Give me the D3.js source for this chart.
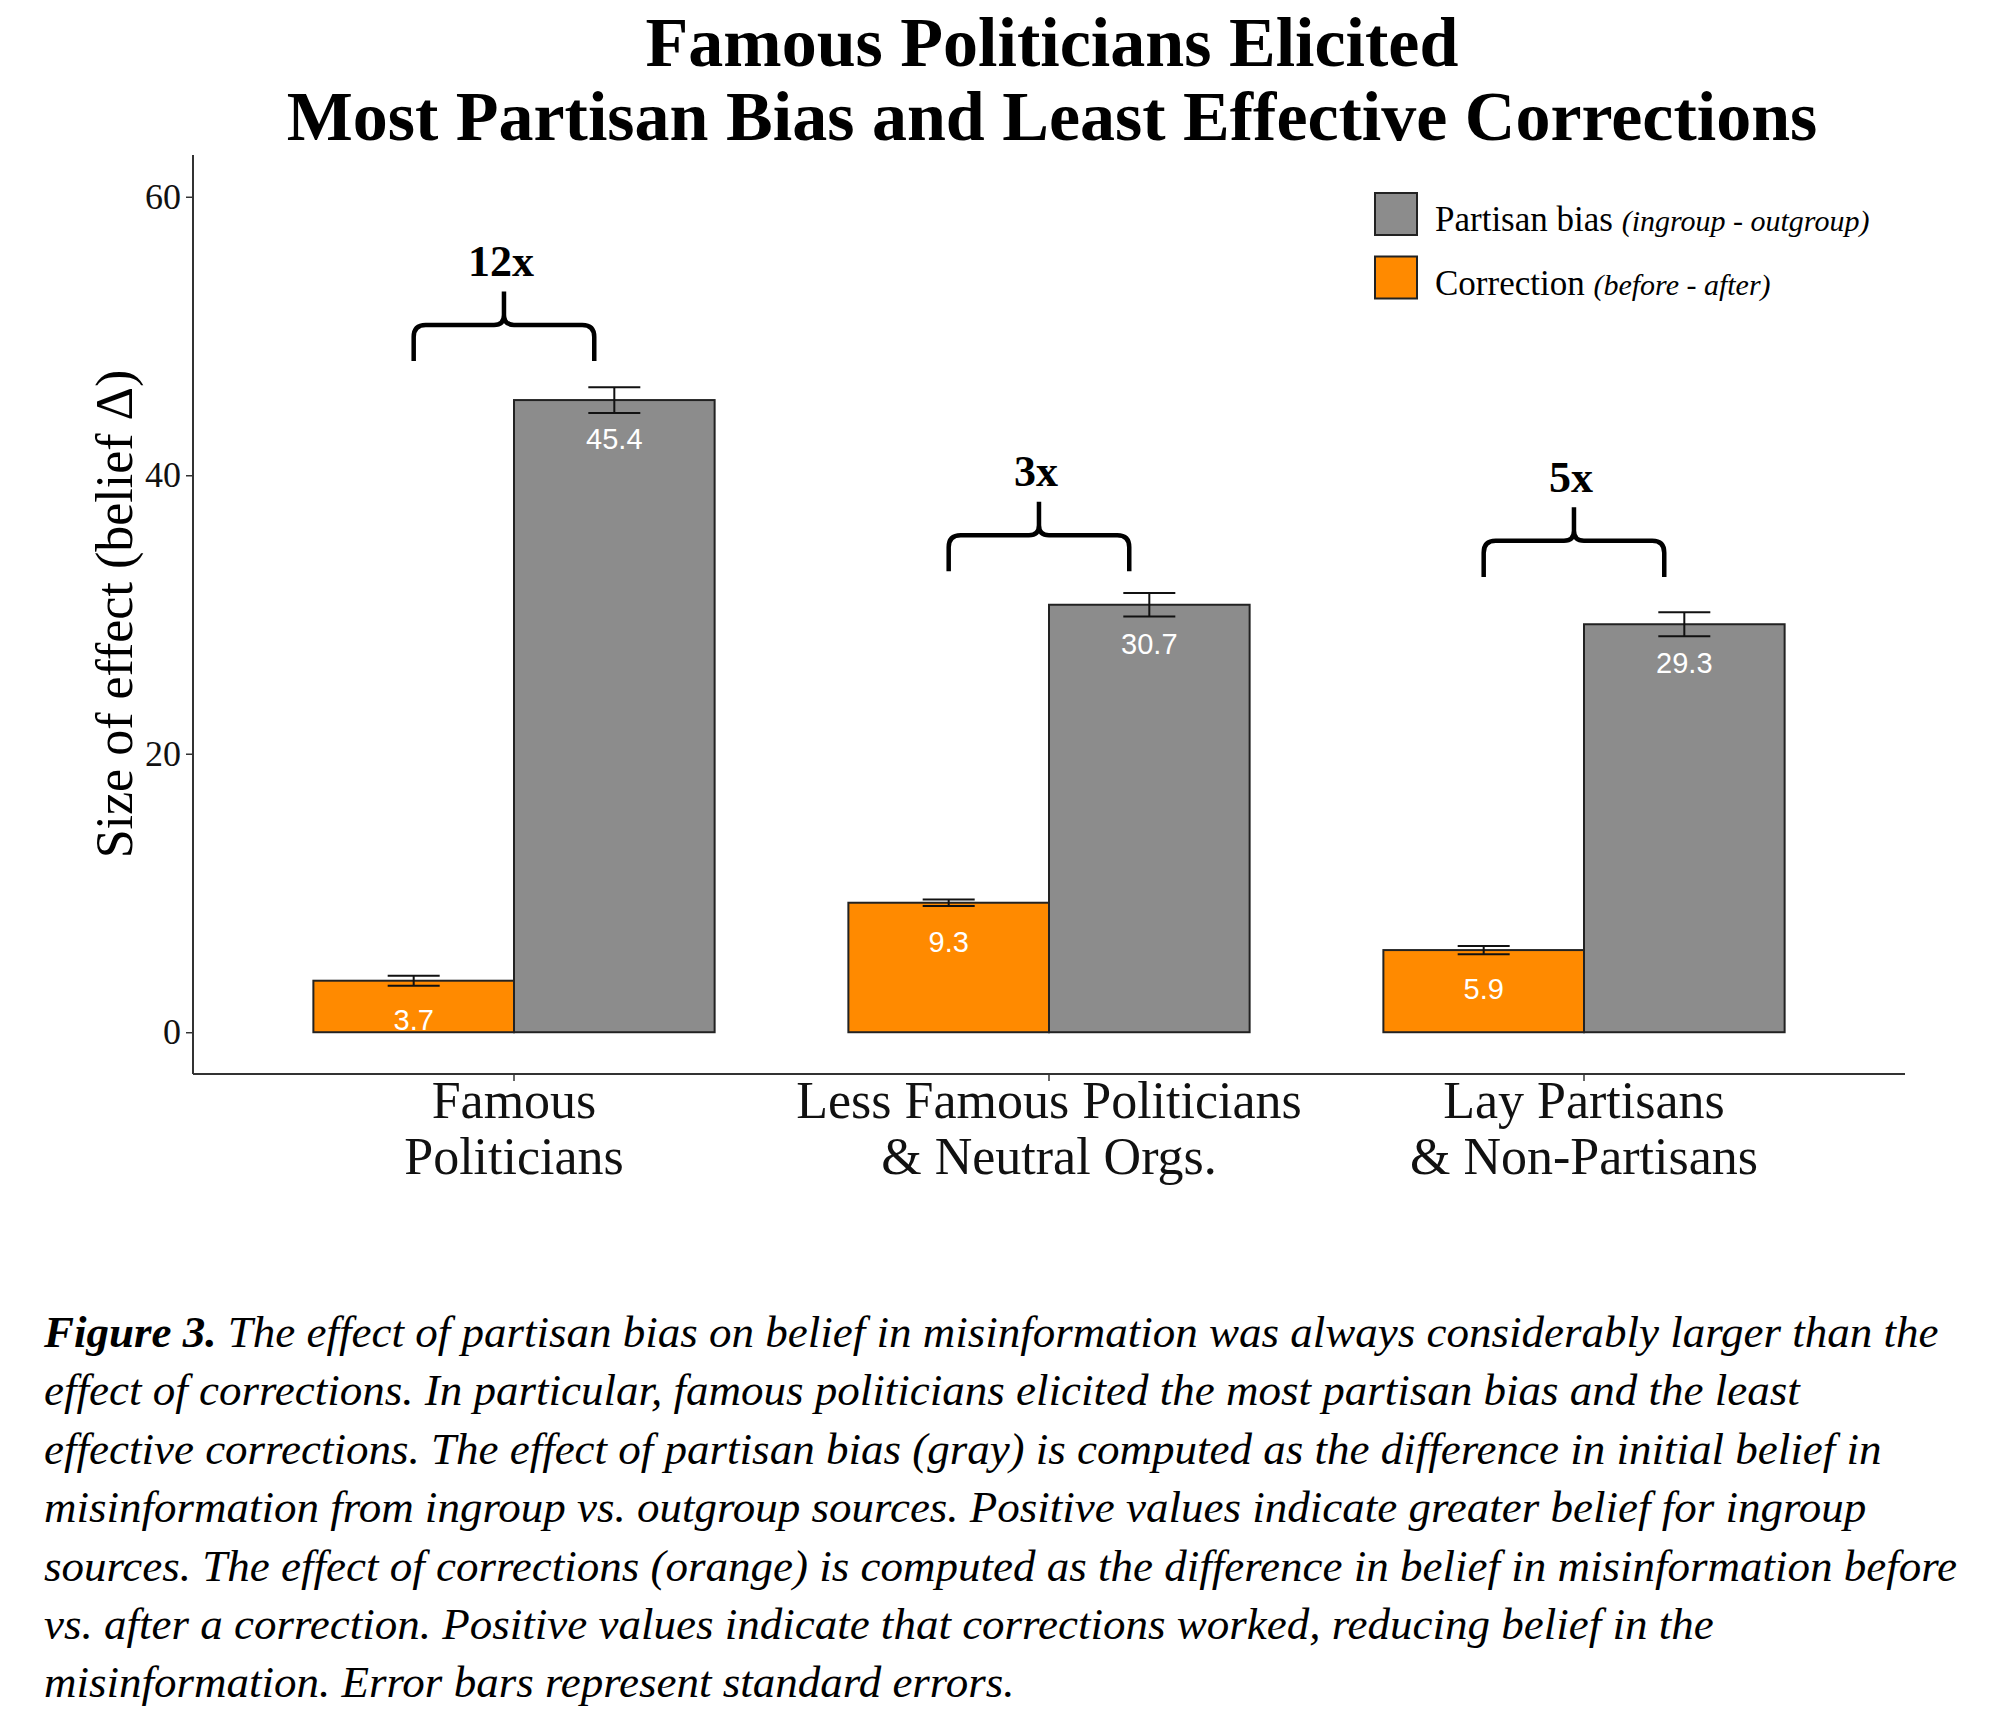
<!DOCTYPE html>
<html>
<head>
<meta charset="utf-8">
<script src="https://cdn.jsdelivr.net/npm/d3@7"></script>
<style>
  html, body { margin: 0; padding: 0; background: #fff; }
  svg { display: block; }
</style>
</head>
<body>
<script>
// ---- data ----
const categories = ["Famous Politicians", "Less Famous Politicians & Neutral Orgs.", "Lay Partisans & Non-Partisans"];
const categoryLines = [["Famous", "Politicians"], ["Less Famous Politicians", "& Neutral Orgs."], ["Lay Partisans", "& Non-Partisans"]];
const seriesNames = ["Correction", "Partisan bias"];
const correctionValues = [3.7, 9.3, 5.9];
const correctionSE = [0.36, 0.24, 0.30];
const biasValues = [45.4, 30.7, 29.3];
const biasSE = [0.92, 0.84, 0.86];
const ratioLabels = ["12x", "3x", "5x"];
const braceBase = [48.2, 33.1, 32.7];
const yTicks = [0, 20, 40, 60];
const titleLines = ["Famous Politicians Elicited", "Most Partisan Bias and Least Effective Corrections"];
const legendItems = [
  { name: "Partisan bias", note: "(ingroup - outgroup)", series: "Partisan bias" },
  { name: "Correction", note: "(before - after)", series: "Correction" }
];
const yLabel = "Size of effect (belief \u0394)";
const captionLines = [
  "The effect of partisan bias on belief in misinformation was always considerably larger than the",
  "effect of corrections. In particular, famous politicians elicited the most partisan bias and the least",
  "effective corrections. The effect of partisan bias (gray) is computed as the difference in initial belief in",
  "misinformation from ingroup vs. outgroup sources. Positive values indicate greater belief for ingroup",
  "sources. The effect of corrections (orange) is computed as the difference in belief in misinformation before",
  "vs. after a correction. Positive values indicate that corrections worked, reducing belief in the",
  "misinformation. Error bars represent standard errors."
];

// ---- layout ----
const W = 2000, H = 1725;
const SERIF = "'Liberation Serif', 'Times New Roman', serif";
const SANS = "'Liberation Sans', Arial, sans-serif";
const colors = { "Correction": "#FF8A00", "Partisan bias": "#8C8C8C" };
const plot = { left: 193, right: 1905, top: 155, bottom: 1074 };

const svg = d3.select("body").append("svg").attr("width", W).attr("height", H);

const x = d3.scaleBand().domain(categories).range([plot.left, plot.right])
  .paddingInner(0.25).paddingOuter(0.225);
const xs = d3.scaleBand().domain(seriesNames).range([0, x.bandwidth()]);
const y = d3.scaleLinear().domain([-3, 63]).range([plot.bottom, plot.top]);

const rows = [];
categories.forEach((c, i) => {
  rows.push({ cat: c, series: "Correction", value: correctionValues[i], se: correctionSE[i] });
  rows.push({ cat: c, series: "Partisan bias", value: biasValues[i], se: biasSE[i] });
});

// title
svg.append("g").selectAll("text").data(titleLines).join("text")
  .attr("x", 1052).attr("y", (d, i) => 66 + i * 74)
  .attr("text-anchor", "middle")
  .style("font-family", SERIF).style("font-weight", "bold").style("font-size", "70px")
  .text(d => d);

// bars
svg.append("g").selectAll("rect").data(rows).join("rect")
  .attr("x", d => x(d.cat) + xs(d.series))
  .attr("y", d => y(d.value))
  .attr("width", xs.bandwidth())
  .attr("height", d => y(0) - y(d.value))
  .attr("fill", d => colors[d.series])
  .attr("stroke", "#222").attr("stroke-width", 2);

// error bars
const capHalf = 26;
const eb = svg.append("g").attr("stroke", "#111").attr("stroke-width", 2);
rows.forEach(d => {
  const cx = x(d.cat) + xs(d.series) + xs.bandwidth() / 2;
  const y1 = y(d.value + d.se), y0 = y(d.value - d.se);
  eb.append("line").attr("x1", cx).attr("x2", cx).attr("y1", y1).attr("y2", y0);
  eb.append("line").attr("x1", cx - capHalf).attr("x2", cx + capHalf).attr("y1", y1).attr("y2", y1);
  eb.append("line").attr("x1", cx - capHalf).attr("x2", cx + capHalf).attr("y1", y0).attr("y2", y0);
});

// value labels
svg.append("g").selectAll("text").data(rows).join("text")
  .attr("x", d => x(d.cat) + xs(d.series) + xs.bandwidth() / 2)
  .attr("y", d => y(d.value) + 49)
  .attr("text-anchor", "middle")
  .attr("fill", "#fff")
  .style("font-family", SANS).style("font-size", "29px")
  .text(d => d.value.toFixed(1));

// braces
const bg = svg.append("g");
categories.forEach((c, i) => {
  const xl = x(c) + xs("Correction") + xs.bandwidth() / 2;
  const xr = x(c) + x.bandwidth() / 2 + 0.15 * x.step();
  const xm = (xl + xr) / 2;
  const yb = y(braceBase[i]), yh = y(braceBase[i] + 2.6), yp = y(braceBase[i] + 5.0);
  const r = 12;
  const p = d3.path();
  p.moveTo(xl, yb);
  p.lineTo(xl, yh + r);
  p.quadraticCurveTo(xl, yh, xl + r, yh);
  p.lineTo(xm - 10, yh);
  p.quadraticCurveTo(xm, yh, xm, yh - 10);
  p.lineTo(xm, yp);
  p.moveTo(xm, yh - 10);
  p.quadraticCurveTo(xm, yh, xm + 10, yh);
  p.lineTo(xr - r, yh);
  p.quadraticCurveTo(xr, yh, xr, yh + r);
  p.lineTo(xr, yb);
  bg.append("path").attr("d", p.toString()).attr("fill", "none")
    .attr("stroke", "#000").attr("stroke-width", 4.5).attr("stroke-linejoin", "round");
  bg.append("text").attr("x", xm - 3).attr("y", y(braceBase[i] + 6.1))
    .attr("text-anchor", "middle")
    .style("font-family", SERIF).style("font-weight", "bold").style("font-size", "44px")
    .text(ratioLabels[i]);
});

// axes
const axG = svg.append("g");
axG.append("line").attr("x1", plot.left).attr("x2", plot.left).attr("y1", plot.top).attr("y2", plot.bottom)
  .attr("stroke", "#333").attr("stroke-width", 2);
axG.append("line").attr("x1", plot.left).attr("x2", plot.right).attr("y1", plot.bottom).attr("y2", plot.bottom)
  .attr("stroke", "#333").attr("stroke-width", 2);

const yAxis = d3.axisLeft(y).tickValues(yTicks).tickSize(7).tickPadding(5).tickFormat(d3.format("d"));
const gy = svg.append("g").attr("transform", `translate(${plot.left},0)`).call(yAxis);
gy.select(".domain").remove();
gy.selectAll(".tick line").attr("stroke", "#333").attr("stroke-width", 1.5);
gy.selectAll(".tick text").attr("fill", "#111")
  .style("font-family", SERIF).style("font-size", "36px");

const xAxis = d3.axisBottom(x).tickSize(7).tickFormat("");
const gx = svg.append("g").attr("transform", `translate(0,${plot.bottom})`).call(xAxis);
gx.select(".domain").remove();
gx.selectAll(".tick line").attr("stroke", "#333").attr("stroke-width", 1.5);

const xl = svg.append("g");
categories.forEach((c, i) => {
  xl.append("g").selectAll("text").data(categoryLines[i]).join("text")
    .attr("x", x(c) + x.bandwidth() / 2)
    .attr("y", (d, j) => 1118 + j * 56)
    .attr("text-anchor", "middle")
    .attr("fill", "#111")
    .style("font-family", SERIF).style("font-size", "52px")
    .text(d => d);
});

// y label
svg.append("text")
  .attr("transform", "translate(132,614) rotate(-90)")
  .attr("text-anchor", "middle")
  .style("font-family", SERIF).style("font-size", "52px")
  .text(yLabel);

// legend
const lg = svg.append("g");
legendItems.forEach((it, i) => {
  const yy = 193 + i * 63.5;
  lg.append("rect").attr("x", 1375).attr("y", yy).attr("width", 42).attr("height", 42)
    .attr("fill", colors[it.series]).attr("stroke", "#222").attr("stroke-width", 2);
  const t = lg.append("text").attr("x", 1435).attr("y", yy + 38)
    .style("font-family", SERIF).style("font-size", "35px");
  t.append("tspan").text(it.name + " ");
  t.append("tspan").style("font-style", "italic").style("font-size", "30px").text(it.note);
});

// caption
const cg = svg.append("g");
captionLines.forEach((line, i) => {
  const t = cg.append("text").attr("x", 44).attr("y", 1347 + i * 58.4)
    .style("font-family", SERIF).style("font-style", "italic").style("font-size", "45px");
  if (i === 0) {
    t.append("tspan").style("font-weight", "bold").text("Figure 3.");
    t.append("tspan").text(" " + line);
  } else {
    t.text(line);
  }
});
</script>
</body>
</html>
